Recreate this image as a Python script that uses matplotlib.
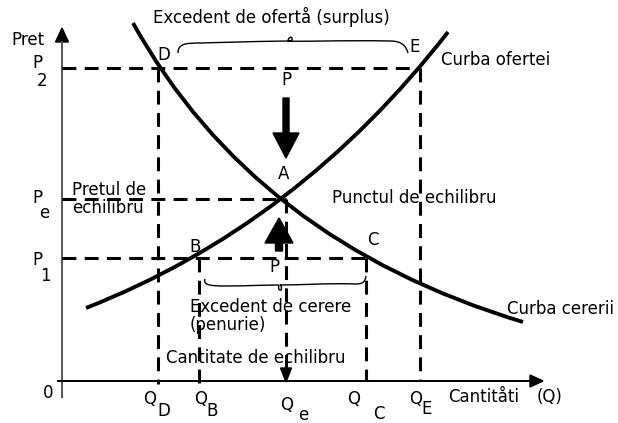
import matplotlib
matplotlib.use("Agg")
import matplotlib.pyplot as plt
from matplotlib.path import Path
from matplotlib.patches import PathPatch, Polygon

plt.rcParams['font.family'] = ['DejaVu Sans']
plt.rcParams['lines.scale_dashes'] = False

# ---- diagram data (pixel-like coordinates, y grows downward) ----
q_names = ['D', 'B', 'e', 'C', 'E']
q_levels = [158, 199, 286, 366, 420]          # Q_D, Q_B, Q_e, Q_C, Q_E
p_names = ['2', 'e', '1']
p_levels = [68, 199, 258]                      # P2, Pe, P1
demand_ctrl = [(133, 23), (254, 241), (523, 322)]   # quadratic Bezier
supply_ctrl = [(86, 308), (298, 225), (448, 32)]
origin = (62, 381)

fig = plt.figure(figsize=(6.18, 4.23), dpi=100)
ax = fig.add_axes([0, 0, 1, 1])
ax.set_xlim(0, 618)
ax.set_ylim(423, 0)
ax.axis('off')

x0, y0 = origin
fs = 12
dash = (0, (10, 6))
dlw = 2.2

# axes
ax.plot([x0, x0], [397, 42], color='#555555', lw=1.4)
ax.add_patch(Polygon([(x0 - 6.5, 42), (x0 + 6.5, 42), (x0, 28)], closed=True, color='black'))
ax.plot([58, 530], [y0, y0], color='black', lw=1.4)
ax.add_patch(Polygon([(530, y0 - 6), (530, y0 + 6), (543, y0)], closed=True, color='black'))

# curves
for ctrl in (demand_ctrl, supply_ctrl):
    path = Path(ctrl, [Path.MOVETO, Path.CURVE3, Path.CURVE3])
    ax.add_patch(PathPatch(path, fill=False, lw=2.8, color='black', capstyle='butt'))

QD, QB, Qe, QC, QE = q_levels
P2, Pe, P1 = p_levels

# horizontal dashed lines
ax.plot([x0, QE], [P2, P2], color='black', lw=dlw, ls=dash)
ax.plot([x0, Qe], [Pe, Pe], color='black', lw=dlw, ls=dash)
ax.plot([x0, QC], [P1, P1], color='black', lw=dlw, ls=dash)
# vertical dashed lines
ax.plot([QD, QD], [P2, y0 + 3], color='black', lw=dlw, ls=dash)
ax.plot([QE, QE], [P2, y0], color='black', lw=dlw, ls=dash)
ax.plot([QB, QB], [P1, y0 + 3], color='black', lw=dlw, ls=dash)
ax.plot([QC, QC], [P1, y0], color='black', lw=dlw, ls=dash)
ax.plot([Qe, Qe], [Pe, 369], color='black', lw=dlw, ls=dash)
ax.add_patch(Polygon([(Qe - 5.5, 368), (Qe + 5.5, 368), (Qe, 382)], closed=True, color='black'))

# big arrows
ax.arrow(Qe, 98, 0, 60, width=6, head_width=26, head_length=25,
         length_includes_head=True, color='black')
ax.arrow(279, 251, 0, -33, width=7, head_width=28, head_length=25,
         length_includes_head=True, color='black')

# braces
codes = [Path.MOVETO] + [Path.CURVE4] * 18
upper = Path([(178, 53), (178, 44), (185, 43), (200, 43),
              (240, 42), (275, 41), (288, 41),
              (288, 38), (291, 36), (292, 38), (293, 40), (290, 42), (288, 41),
              (300, 42), (340, 40), (390, 41),
              (402, 41), (406, 46), (408, 53)], codes)
ax.add_patch(PathPatch(upper, fill=False, lw=1.0, color='black'))
lower = Path([(205, 279), (203, 285), (210, 286), (225, 286),
              (245, 286), (265, 285), (279, 285),
              (278, 288), (279, 291), (281, 290), (282, 288), (281, 285), (280, 285),
              (300, 285), (330, 283), (355, 284),
              (363, 284), (365, 282), (366, 276)], codes)
ax.add_patch(PathPatch(lower, fill=False, lw=1.0, color='black'))

# texts
def T(x, y, s, ha='left', size=fs):
    ax.text(x, y, s, ha=ha, va='center', fontsize=size, color='black')

T(153, 17, 'Excedent de ofertå (surplus)')
T(28, 40, 'Pret', ha='center')
T(164, 55, 'D', ha='center')
T(415, 47, 'E', ha='center')
T(441, 60, 'Curba ofertei')
T(286, 80, 'P', ha='center')
T(284, 174, 'A', ha='center')
T(72, 190, 'Pretul de')
T(72, 208, 'echilibru')
T(332, 198, 'Punctul de echilibru')
T(195, 247, 'B', ha='center')
T(373, 240, 'C', ha='center')
T(274, 267, 'P', ha='center')
T(190, 307, 'Excedent de cerere')
T(190, 325, '(penurie)')
T(166, 358, 'Cantitate de echilibru')
T(507, 309, 'Curba cererii')
T(448, 397, 'Cantitåti')
T(537, 397, '(Q)')
T(48, 393, '0', ha='center')

# price labels
p_label_pos = [((37, 63), (42, 81)), ((37, 198), (44, 213)), ((37, 260), (45, 276))]
for name, ((px, py), (sx, sy)) in zip(p_names, p_label_pos):
    T(px, py, 'P', ha='center')
    T(sx, sy, name, ha='center')

# quantity labels
q_label_pos = [((150, 399), (164, 411)), ((201, 399), (212, 411)),
               ((287, 405), (303, 415)), ((354, 399), (379, 414)),
               ((416, 399), (427, 409))]
for name, ((qx, qy), (sx, sy)) in zip(q_names, q_label_pos):
    T(qx, qy, 'Q', ha='center')
    T(sx, sy, name, ha='center')

fig.savefig('out.png', dpi=100, facecolor='white')
